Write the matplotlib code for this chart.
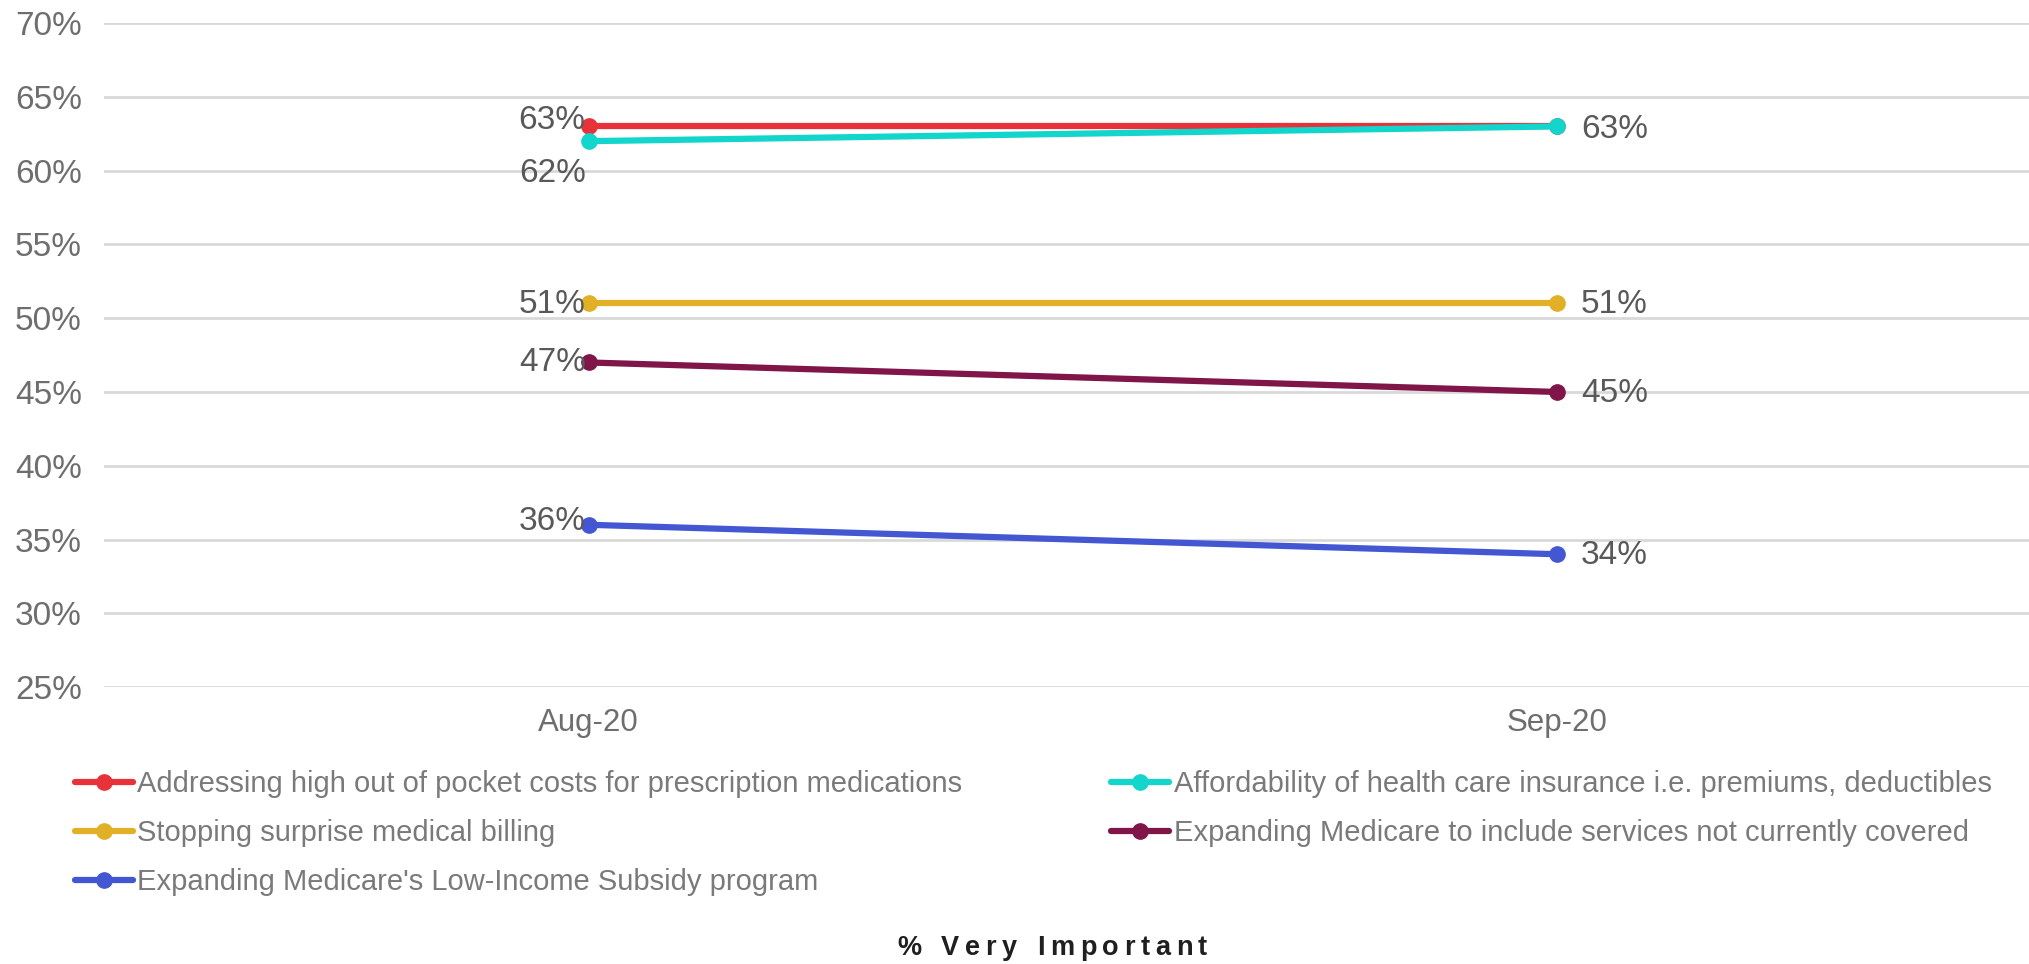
import matplotlib
matplotlib.use("Agg")
import matplotlib.pyplot as plt
from matplotlib.ticker import MultipleLocator, FuncFormatter

plt.rcParams["font.family"] = ["Liberation Sans", "DejaVu Sans"]

months = ["Aug-20", "Sep-20"]
series_names = [
    "Addressing high out of pocket costs for prescription medications",
    "Affordability of health care insurance i.e. premiums, deductibles",
    "Stopping surprise medical billing",
    "Expanding Medicare to include services not currently covered",
    "Expanding Medicare's Low-Income Subsidy program",
]
prescription = [0.63, 0.63]
affordability = [0.62, 0.63]
surprise_billing = [0.51, 0.51]
medicare_services = [0.47, 0.45]
low_income_subsidy = [0.36, 0.34]

colors = ["#E8323A", "#12D5CB", "#E1B026", "#7F1549", "#4457D2"]
series = [prescription, affordability, surprise_billing, medicare_services, low_income_subsidy]

# label placement per series: (aug offset, sep offset) in points, None = no label
label_offsets = [
    ((-2, 4), None),
    ((-2, -23), (17, -2)),
    ((-2, -1), (17, -1)),
    ((-2, 0), (17, -1)),
    ((-2, 2), (17, -1)),
]

fig = plt.figure(figsize=(20.29, 9.64), dpi=100)
ax = fig.add_axes([0.0513, 0.2873, 0.955, 0.6887])

x = list(range(len(months)))
lines = []
for name, vals, col in zip(series_names, series, colors):
    ln, = ax.plot(x, vals, color=col, lw=4.5, marker="o", ms=11, label=name,
                  solid_capstyle="round")
    lines.append(ln)

label_color = "#595959"
for vals, offs in zip(series, label_offsets):
    for i, off in enumerate(offs):
        if off is None:
            continue
        ha = "right" if i == 0 else "left"
        ax.annotate(f"{vals[i]*100:.0f}%", (x[i], vals[i]), xytext=off,
                    textcoords="offset points", ha=ha, va="center",
                    fontsize=24, color=label_color)

ax.set_xlim(-0.5, 1.5)
ax.set_ylim(0.25, 0.70)
ax.set_xticks(x)
ax.set_xticklabels(months)
ax.yaxis.set_major_locator(MultipleLocator(0.05))
ax.yaxis.set_major_formatter(FuncFormatter(lambda v, p: f"{v*100:.0f}%"))
ax.tick_params(axis="both", length=0, labelcolor="#6E6E6E")
ax.tick_params(axis="y", pad=16, labelsize=24)
ax.tick_params(axis="x", pad=15, labelsize=22.5)
ax.grid(axis="y", color="#D9D9D9", lw=2)
ax.set_axisbelow(True)
for s in ax.spines.values():
    s.set_visible(False)

# legend reads row by row: reorder for matplotlib's column filling
order = [0, 2, 4, 1, 3]
leg = fig.legend([lines[i] for i in order], [series_names[i] for i in order],
                 loc="upper left", bbox_to_anchor=(0.031, 0.213), ncol=2,
                 frameon=False, fontsize=21, labelcolor="#7A7A7A",
                 handlelength=2.0, handletextpad=0.15, columnspacing=5.1,
                 labelspacing=0.72, borderaxespad=0)

# letter-spaced caption
fig.canvas.draw()
renderer = fig.canvas.get_renderer()
caption = "% Very Important"
spacing = 5.6
pieces = []
total = 0
for ch in caption:
    t = fig.text(0, 0, ch, fontsize=19.5, fontweight="bold", color="#1F1F1F")
    w = t.get_window_extent(renderer).width if ch != " " else 9
    pieces.append((t, w))
    total += w + spacing
total -= spacing
start = 1052 - total / 2
for t, w in pieces:
    t.set_position((start / 2029, 0.009))
    start += w + spacing

fig.savefig("out.png", dpi=100)
